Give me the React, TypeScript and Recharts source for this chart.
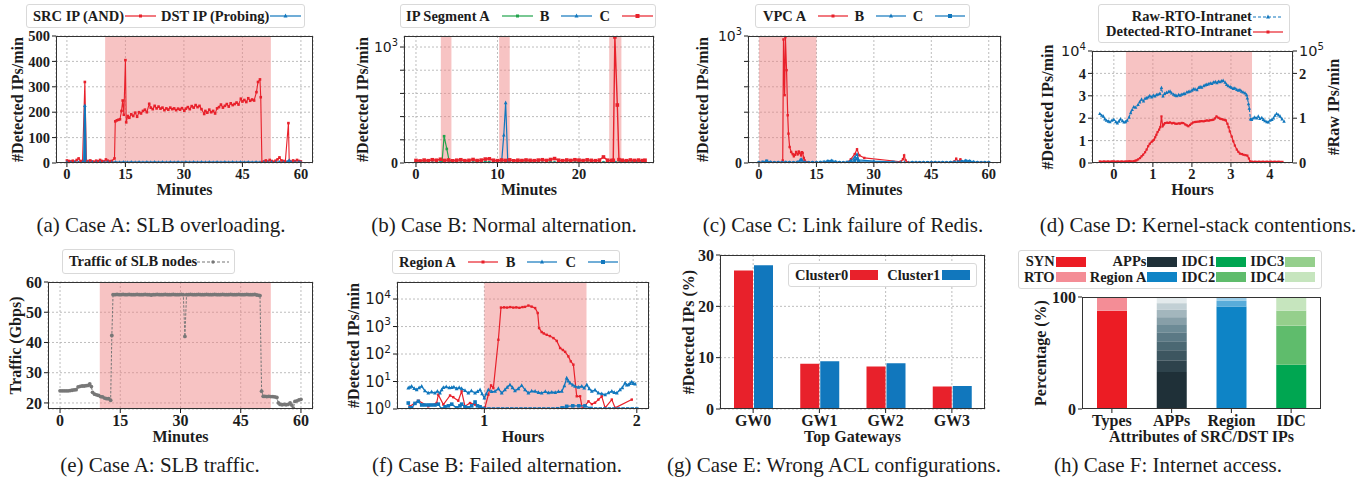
import React from 'react';
import {
  LineChart, Line, BarChart, Bar, XAxis, YAxis, CartesianGrid, ReferenceArea, Legend,
} from 'recharts';

const SERIF = '"Liberation Serif", "Times New Roman", serif';
const SANS = '"DejaVu Sans", Verdana, sans-serif';
const INK = '#1c1c1c';
const RED = '#e8212b';
const BLUE = '#1177bd';
const GREEN = '#21a34b';
const GRAY = '#777777';
const SHADE = '#ef7f7f';
const GRID = '#b5b5b5';

type Pt = [number, number];

// (a) Case A: SLB overloading
const aSrcIp: Pt[] = [
  [0, 10], [0.5, 8], [1, 6], [1.5, 9], [2, 5], [2.5, 12], [3, 18], [3.5, 8], [4, 6], [4.6, 319], [5, 5], [5.5, 8],
  [6, 10], [6.5, 6], [7, 5], [7.5, 9], [8, 7], [8.5, 12], [9, 8], [9.5, 6], [10, 14], [10.5, 9], [11, 6], [11.5, 8],
  [12.2, 18], [12.4, 164], [12.8, 168], [13.2, 170], [13.6, 172], [14, 205], [14.3, 246], [14.6, 190], [15.0, 405],
  [15.2, 160], [15.6, 185], [16, 178], [16.5, 192], [17, 185], [17.5, 198], [18, 182], [18.5, 200], [19, 195],
  [19.5, 205], [20, 210], [20.5, 200], [21.1, 233], [21.5, 218], [22, 212], [22.5, 225], [23, 215], [23.5, 222],
  [24, 214], [24.5, 218], [25, 208], [25.5, 215], [26, 210], [26.5, 218], [27, 212], [27.5, 215], [28, 208],
  [28.5, 214], [29, 210], [29.5, 216], [30.1, 206], [30.5, 214], [31, 220], [31.5, 212], [32, 224], [32.5, 218],
  [33, 228], [33.5, 220], [34, 225], [34.5, 212], [35.2, 193], [35.5, 205], [36, 198], [36.5, 210], [37, 200],
  [37.5, 205], [38, 195], [38.5, 215], [39, 220], [39.5, 230], [40, 218], [40.5, 225], [41, 232], [41.5, 222],
  [42, 235], [42.5, 228], [43, 232], [43.5, 238], [44, 230], [44.6, 253], [45, 242], [45.5, 248], [46, 240],
  [46.5, 255], [47, 245], [47.5, 250], [48, 246], [48.6, 279], [49.0, 319], [49.5, 329], [49.7, 259], [50.0, 3],
  [50.5, 6], [51, 10], [51.5, 5], [52, 12], [52.5, 8], [53, 5], [53.5, 9], [54, 14], [54.5, 22], [55, 10],
  [55.5, 8], [56, 6], [56.8, 157], [57.0, 8], [57.5, 5], [58, 10], [58.5, 7], [59, 12], [59.5, 8], [60, 6],
];
const aDstIp: Pt[] = [
  [0, 3], [1, 2], [2, 3], [3, 2], [4, 3], [4.4, 4], [4.6, 226], [4.8, 3], [5.5, 2], [6.5, 3], [7.5, 2], [8.5, 3],
  [9.5, 2], [10.5, 3], [11.5, 2], [12.5, 3], [13.5, 2], [14.5, 3], [15.5, 2], [16.5, 3], [17.5, 2], [18.5, 3],
  [19.5, 2], [20.5, 3], [21.5, 2], [22.5, 3], [23.5, 2], [24.5, 3], [25.5, 2], [26.5, 3], [27.5, 2], [28.5, 3],
  [29.5, 2], [30.5, 3], [31.5, 2], [32.5, 3], [33.5, 2], [34.5, 3], [35.5, 2], [36.5, 3], [37.5, 2], [38.5, 3],
  [39.5, 2], [40.5, 3], [41.5, 2], [42.5, 3], [43.5, 2], [44.5, 3], [45.5, 2], [46.5, 3], [47.5, 2], [48.5, 3],
  [49.5, 2], [50.5, 3], [51.5, 2], [52.5, 3], [53.5, 2], [54.5, 3], [55.5, 2], [56.5, 4], [57, 10], [57.5, 3],
  [58.5, 2], [59.5, 3], [60, 2],
];
const aAnomaly = [9.8, 52.3];
const minuteTicks = [0, 15, 30, 45, 60];

// (b) Case B: normal alternation
const bSegA: Pt[] = [
  [0, 6], [0.5, 4], [1, 7], [1.5, 5], [2, 3], [2.5, 6], [3, 5], [3.2, 8], [3.45, 231], [3.78, 121], [4.1, 6],
  [4.5, 4], [5, 5], [5.5, 3], [6, 6], [6.5, 4], [7, 5], [7.5, 7], [8, 4], [8.5, 9], [9, 6], [9.5, 4], [10, 5],
  [10.5, 3], [11, 5], [11.5, 4], [12, 6], [12.5, 3], [13, 5], [13.5, 7], [14, 4], [14.5, 5], [15, 6], [15.5, 3],
  [16, 5], [16.5, 8], [17, 4], [17.5, 5], [18, 3], [18.5, 6], [19, 4], [19.5, 5], [20, 7], [20.5, 4], [21, 5],
  [21.5, 3], [22, 6], [22.5, 4], [23, 5], [23.5, 6], [24, 3], [24.5, 4], [25, 5], [25.5, 3], [26, 6], [26.5, 4],
  [27, 5], [27.5, 4], [28, 5],
];
const bSegB: Pt[] = [
  [0, 3], [0.5, 2], [1, 3], [1.5, 2], [2, 4], [2.5, 2], [3, 3], [3.5, 2], [4, 3], [4.5, 2], [5, 3], [5.5, 2],
  [6, 3], [6.5, 2], [7, 3], [7.5, 2], [8, 3], [8.5, 4], [9, 2], [9.5, 3], [10, 2], [10.5, 4], [10.77, 240],
  [11.0, 520], [11.26, 9], [11.5, 3], [12, 2], [12.5, 3], [13, 2], [13.5, 3], [14, 2], [14.5, 3], [15, 2],
  [15.5, 3], [16, 2], [16.5, 3], [17, 2], [17.5, 3], [18, 2], [18.5, 3], [19, 2], [19.5, 3], [20, 2], [20.5, 3],
  [21, 2], [21.5, 3], [22, 2], [22.5, 3], [23, 2], [23.5, 3], [24, 2], [24.5, 3], [25, 2], [25.5, 3], [26, 2],
  [26.5, 3], [27, 2], [27.5, 3], [28, 2],
];
const bSegC: Pt[] = [
  [0, 22], [0.5, 18], [1, 25], [1.5, 20], [2, 28], [2.5, 24], [3, 32], [3.5, 22], [4, 26], [4.5, 19], [5, 24],
  [5.5, 28], [6, 20], [6.5, 23], [7, 30], [7.5, 21], [8, 25], [8.5, 34], [9, 36], [9.5, 24], [10, 20], [10.5, 26],
  [11, 22], [11.5, 27], [12, 19], [12.5, 24], [13, 21], [13.5, 26], [14, 23], [14.5, 20], [15, 25], [15.5, 28],
  [16, 22], [16.5, 30], [17, 38], [17.5, 24], [18, 20], [18.5, 26], [19, 22], [19.5, 28], [20, 25], [20.5, 21],
  [21, 27], [21.5, 23], [22, 20], [22.5, 25], [23, 52], [23.5, 24], [24, 22], [24.2, 23], [24.4, 1087],
  [24.7, 500], [24.9, 29], [25.3, 24], [25.8, 20], [26.3, 26], [26.8, 22], [27.3, 25], [27.8, 21], [28.1, 24],
];
const bAnomalies = [[3.05, 4.35], [10.2, 11.5], [23.7, 25.2]];
const bMinuteTicks = [0, 10, 20];
const linTicks = [0, 200, 400, 600, 800, 1000];

// (c) Case C: link failure of Redis
const cVpcA: Pt[] = [
  [0, 3], [1, 4], [2, 3], [3, 5], [4, 3], [5, 4], [6, 6], [6.2, 20], [6.4, 973], [6.7, 534], [6.9, 990],
  [7.2, 731], [7.5, 376], [7.7, 231], [8.0, 126], [8.4, 87], [8.8, 70], [9.1, 53], [9.4, 65], [9.7, 87],
  [10.1, 68], [10.4, 90], [10.6, 79], [11.0, 60], [11.2, 85], [11.4, 79], [11.7, 40], [11.9, 21], [12.5, 6],
  [13, 4], [14, 5], [15, 3], [16, 4], [17, 5], [18, 3], [19, 4], [20, 5], [21, 3], [22, 4], [23, 5], [24, 30],
  [25, 70], [25.6, 108], [26.2, 60], [27.5, 40], [37.0, 10], [37.6, 30], [37.9, 60], [38.3, 20], [39, 5],
  [40, 4], [41, 3], [42, 5], [43, 4], [44, 3], [45, 5], [46, 4], [47, 3], [48, 5], [49, 4], [50, 5], [51, 12],
  [51.5, 34], [52, 10], [52.6, 29], [53, 8], [54, 5], [55, 4], [56, 6], [57, 4], [58, 5], [59, 3], [60, 4],
];
const cVpcB: Pt[] = [
  [0, 3], [1, 5], [2, 12], [3, 6], [4, 3], [5, 4], [6, 3], [7, 5], [8, 4], [9, 3], [10, 6], [11, 30], [12, 5],
  [13, 3], [14, 4], [15, 3], [16, 5], [17, 8], [18, 15], [19, 18], [20, 9], [21, 4], [22, 3], [23, 6], [24, 20],
  [25, 45], [25.6, 68], [26, 25], [30, 15], [37, 5], [38, 4], [39, 3], [40, 5], [41, 4], [42, 3], [43, 4],
  [44, 3], [45, 5], [46, 4], [47, 3], [48, 4], [49, 3], [50, 5], [51, 6], [52, 8], [53, 12], [54, 18], [55, 15],
  [56, 8], [57, 4], [58, 3], [59, 4], [60, 3],
];
const cVpcC: Pt[] = [
  [0, 2], [1, 6], [2, 15], [3, 4], [4, 2], [5, 3], [6, 2], [7, 4], [8, 3], [9, 2], [10, 4], [11, 22], [12, 4],
  [13, 2], [14, 3], [15, 2], [16, 4], [17, 6], [18, 12], [19, 14], [20, 6], [21, 3], [22, 2], [23, 4], [24, 10],
  [25, 20], [25.6, 34], [26, 12], [35, 6], [40, 3], [41, 2], [42, 3], [43, 2], [44, 3], [45, 2], [46, 3],
  [47, 2], [48, 3], [49, 2], [50, 3], [51, 4], [52, 6], [53, 10], [54, 15], [55, 12], [56, 5], [57, 3], [58, 2],
  [59, 3], [60, 2],
];
const cAnomaly = [0, 15];

// (d) Case D: kernel-stack contentions (raw in 1e5, detected in 1e4)
const dRawRto: Pt[] = [
  [-0.36, 1.10], [-0.31, 1.06], [-0.27, 1.04], [-0.23, 0.98], [-0.19, 0.95], [-0.14, 0.93], [-0.1, 0.92],
  [-0.05, 0.95], [0, 0.97], [0.05, 0.92], [0.09, 0.89], [0.13, 0.93], [0.17, 0.98], [0.22, 0.94], [0.26, 0.91],
  [0.3, 0.92], [0.34, 0.95], [0.39, 1.02], [0.43, 1.12], [0.47, 1.19], [0.51, 1.25], [0.56, 1.24], [0.62, 1.30],
  [0.66, 1.36], [0.71, 1.42], [0.76, 1.38], [0.8, 1.44], [0.84, 1.45], [0.88, 1.47], [0.92, 1.50], [0.97, 1.47],
  [1.01, 1.51], [1.05, 1.49], [1.09, 1.52], [1.13, 1.53], [1.18, 1.55], [1.22, 1.68], [1.26, 1.49], [1.3, 1.55],
  [1.35, 1.57], [1.4, 1.59], [1.44, 1.60], [1.48, 1.56], [1.53, 1.53], [1.57, 1.51], [1.61, 1.50], [1.66, 1.52],
  [1.7, 1.51], [1.74, 1.53], [1.78, 1.54], [1.82, 1.55], [1.87, 1.58], [1.91, 1.59], [1.95, 1.60], [2.0, 1.62],
  [2.04, 1.65], [2.08, 1.65], [2.13, 1.63], [2.17, 1.68], [2.21, 1.70], [2.25, 1.69], [2.3, 1.72], [2.34, 1.74],
  [2.38, 1.75], [2.42, 1.76], [2.47, 1.78], [2.51, 1.77], [2.55, 1.80], [2.6, 1.81], [2.64, 1.79], [2.68, 1.82],
  [2.72, 1.81], [2.76, 1.83], [2.8, 1.84], [2.85, 1.80], [2.89, 1.75], [2.93, 1.72], [2.98, 1.70], [3.02, 1.68],
  [3.06, 1.66], [3.1, 1.67], [3.15, 1.64], [3.19, 1.62], [3.23, 1.63], [3.27, 1.60], [3.31, 1.58], [3.36, 1.56],
  [3.4, 1.52], [3.42, 1.45], [3.45, 1.32], [3.47, 1.22], [3.5, 0.98], [3.53, 0.97], [3.57, 1.00], [3.61, 1.02],
  [3.66, 1.00], [3.7, 1.04], [3.74, 0.99], [3.79, 1.01], [3.83, 0.97], [3.87, 0.94], [3.92, 0.92], [3.96, 0.91],
  [4.0, 0.95], [4.05, 0.97], [4.09, 1.00], [4.13, 1.06], [4.17, 1.10], [4.22, 1.07], [4.26, 1.04], [4.31, 0.98],
  [4.36, 0.93],
];
const dDetectedRto: Pt[] = [
  [-0.36, 0.07], [-0.3, 0.06], [-0.25, 0.07], [-0.2, 0.06], [-0.15, 0.07], [-0.1, 0.06], [-0.05, 0.07], [0, 0.07],
  [0.05, 0.06], [0.1, 0.07], [0.15, 0.06], [0.2, 0.07], [0.25, 0.06], [0.3, 0.07], [0.35, 0.07], [0.4, 0.08],
  [0.45, 0.07], [0.51, 0.08], [0.55, 0.1], [0.58, 0.12], [0.62, 0.16], [0.67, 0.22], [0.71, 0.3], [0.75, 0.37],
  [0.8, 0.48], [0.84, 0.6], [0.88, 0.75], [0.92, 0.86], [0.97, 0.95], [1.0, 1.0], [1.03, 1.04], [1.06, 1.15],
  [1.09, 1.26], [1.12, 1.38], [1.16, 1.49], [1.19, 1.6], [1.22, 2.08], [1.25, 1.64], [1.28, 1.72], [1.31, 1.78],
  [1.36, 1.8], [1.4, 1.79], [1.44, 1.81], [1.49, 1.77], [1.53, 1.79], [1.57, 1.76], [1.61, 1.75], [1.66, 1.77],
  [1.7, 1.76], [1.74, 1.79], [1.78, 1.78], [1.83, 1.72], [1.87, 1.68], [1.91, 1.64], [1.95, 1.7], [1.99, 1.76],
  [2.03, 1.81], [2.08, 1.83], [2.12, 1.84], [2.17, 1.85], [2.21, 1.86], [2.25, 1.87], [2.3, 1.86], [2.34, 1.88],
  [2.38, 1.9], [2.43, 1.89], [2.47, 1.91], [2.51, 1.92], [2.55, 1.93], [2.59, 1.99], [2.63, 2.08], [2.68, 2.02],
  [2.72, 1.98], [2.76, 1.96], [2.8, 1.94], [2.84, 1.92], [2.87, 1.9], [2.91, 1.75], [2.94, 1.6], [2.97, 1.41],
  [3.02, 1.18], [3.06, 0.97], [3.1, 0.78], [3.15, 0.6], [3.19, 0.5], [3.23, 0.42], [3.28, 0.4], [3.32, 0.37],
  [3.37, 0.35], [3.42, 0.33], [3.46, 0.2], [3.49, 0.07], [3.53, 0.06], [3.57, 0.05], [3.62, 0.06], [3.67, 0.05],
  [3.72, 0.06], [3.77, 0.05], [3.82, 0.06], [3.87, 0.05], [3.92, 0.06], [3.97, 0.05], [4.02, 0.06], [4.07, 0.05],
  [4.12, 0.06], [4.17, 0.05], [4.22, 0.06], [4.27, 0.05], [4.32, 0.05],
];
const dAnomaly = [0.31, 3.54];
const hourTicks = [0, 1, 2, 3, 4];

// (e) Case A: SLB traffic (Gbps)
const eSlbTraffic: Pt[] = [
  [0, 24], [0.5, 24], [1, 24], [1.5, 24], [2, 24], [2.5, 24.1], [3, 24.2], [3.5, 24.3], [4, 24.4], [4.5, 25.3],
  [5, 25.5], [5.5, 25.6], [6, 25.6], [6.5, 25.7], [7, 25.8], [7.4, 26.3], [7.8, 25.4], [8.1, 23.5], [8.6, 22.9],
  [9.1, 22.7], [9.6, 22.5], [10.1, 22.1], [10.6, 22], [11.1, 21.6], [11.6, 21.4], [12.1, 21.4], [12.6, 20.9],
  [12.9, 42.3], [13.2, 55.8], [13.7, 55.8], [14.2, 55.9], [14.7, 55.8], [15.2, 55.8], [15.7, 55.9], [16.2, 55.8],
  [16.7, 55.8], [17.2, 55.9], [17.7, 55.8], [18.2, 55.8], [18.7, 55.8], [19.2, 55.9], [19.7, 55.8], [20.2, 55.8],
  [20.7, 55.8], [21.2, 55.9], [21.7, 55.8], [22.2, 55.8], [22.7, 55.7], [23.2, 55.8], [23.7, 55.8], [24.2, 55.9],
  [24.7, 55.8], [25.2, 55.8], [25.7, 55.8], [26.2, 55.9], [26.7, 55.8], [27.2, 55.8], [27.7, 55.8], [28.2, 55.9],
  [28.7, 55.8], [29.2, 55.8], [29.7, 55.8], [30.2, 55.9], [30.7, 55.8], [31.1, 42], [31.5, 55.8], [32, 55.8],
  [32.5, 55.9], [33, 55.8], [33.5, 55.8], [34, 55.8], [34.5, 55.9], [35, 55.8], [35.5, 55.8], [36, 55.8],
  [36.5, 55.9], [37, 55.8], [37.5, 55.8], [38, 55.8], [38.5, 55.9], [39, 55.8], [39.5, 55.8], [40, 55.8],
  [40.5, 55.9], [41, 55.8], [41.5, 55.8], [42, 55.8], [42.5, 55.9], [43, 55.8], [43.5, 55.8], [44, 55.8],
  [44.5, 55.9], [45, 55.8], [45.5, 55.8], [46, 55.8], [46.5, 55.9], [47, 55.8], [47.5, 55.8], [48, 55.8],
  [48.5, 55.9], [49, 55.7], [49.5, 55.6], [49.8, 55.5], [50.2, 23.9], [50.6, 22.2], [51, 22.2], [51.5, 22.1],
  [52, 22.2], [52.5, 22.1], [53, 22.1], [53.5, 22], [54, 21.8], [54.4, 20], [54.8, 19.5], [55.3, 19.4],
  [55.8, 19.5], [56.3, 19.4], [56.8, 19.5], [57.3, 20], [57.7, 19.3], [58.1, 18.3], [58.5, 20.5], [59, 20.7],
  [59.5, 21], [60, 21.2],
];
const eAnomaly = [9.9, 52.5];
const gbpsTicks = [20, 30, 40, 50, 60];

// (f) Case B: failed alternation (log scale)
const fRegionA: Pt[] = [
  [0.512, 1.25], [0.567, 2.0], [0.632, 1.25], [0.687, 1.65], [0.698, 3.3], [0.731, 1.45], [0.775, 3.1],
  [0.796, 2.7], [0.829, 2.0], [0.851, 4.4], [0.873, 1.25], [0.906, 1.65], [0.939, 1.45], [0.972, 1.1],
  [1.004, 1.15], [1.026, 3.3], [1.044, 7.2], [1.059, 5.8], [1.092, 330], [1.109, 4900], [1.13, 5000],
  [1.15, 4900], [1.17, 5100], [1.19, 4900], [1.21, 5000], [1.23, 4800], [1.25, 5100], [1.267, 5200],
  [1.289, 5800], [1.31, 5300], [1.333, 4700], [1.35, 3100], [1.359, 880], [1.376, 630], [1.39, 560],
  [1.409, 500], [1.43, 450], [1.453, 380], [1.475, 300], [1.497, 165], [1.515, 140], [1.53, 120], [1.551, 82],
  [1.567, 54], [1.584, 41], [1.606, 2.9], [1.628, 2.9], [1.643, 1.0], [1.683, 1.9], [1.705, 1.5], [1.726, 1.7],
  [1.748, 2.2], [1.77, 2.9], [1.792, 1.1], [1.836, 2.2], [1.858, 1.1], [1.967, 2.2],
];
const fRegionB: Pt[] = [
  [0.501, 5.8], [0.512, 6.2], [0.523, 6.7], [0.54, 5.6], [0.556, 5.0], [0.572, 5.9], [0.589, 6.7], [0.61, 4.6],
  [0.632, 3.8], [0.654, 4.2], [0.676, 3.8], [0.692, 4.4], [0.709, 3.8], [0.72, 5.0], [0.731, 6.1], [0.75, 6.4],
  [0.77, 5.9], [0.786, 6.1], [0.8, 6.3], [0.818, 5.5], [0.835, 6.0], [0.851, 5.5], [0.873, 4.7], [0.895, 3.8],
  [0.915, 4.6], [0.939, 3.8], [0.955, 4.3], [0.972, 5.0], [0.985, 3.6], [1.0, 2.5], [1.013, 3.6], [1.026, 5.0],
  [1.048, 4.3], [1.07, 4.4], [1.092, 5.5], [1.114, 3.8], [1.135, 5.0], [1.15, 6.2], [1.168, 7.6], [1.185, 6.0],
  [1.201, 4.6], [1.223, 5.5], [1.245, 7.2], [1.267, 5.0], [1.289, 3.8], [1.31, 4.5], [1.333, 4.4], [1.355, 4.0],
  [1.376, 3.8], [1.4, 4.3], [1.42, 3.9], [1.442, 4.1], [1.465, 4.0], [1.486, 4.3], [1.508, 4.4], [1.525, 7.0],
  [1.54, 13.4], [1.551, 10.5], [1.562, 8.8], [1.58, 7.5], [1.595, 6.7], [1.617, 6.2], [1.639, 6.7], [1.655, 5.8],
  [1.672, 7.6], [1.688, 5.5], [1.705, 4.4], [1.726, 4.9], [1.748, 3.8], [1.77, 3.6], [1.792, 3.3], [1.814, 3.9],
  [1.836, 4.4], [1.852, 4.0], [1.869, 3.8], [1.89, 5.0], [1.905, 6.0], [1.923, 8.8], [1.934, 7.5], [1.945, 7.6],
  [1.956, 8.5], [1.967, 9.6], [1.978, 8.4], [1.989, 8.1],
];
const fRegionC: Pt[] = [
  [0.501, 1.65], [0.512, 1.1], [0.523, 1.1], [0.545, 1.6], [0.567, 1.9], [0.589, 1.4], [0.61, 1.4], [0.632, 1.4],
  [0.654, 1.4], [0.676, 1.4], [0.698, 1.5], [0.72, 1.0], [0.742, 1.2], [0.764, 1.3], [0.786, 1.5], [0.818, 1.1],
  [0.84, 1.3], [0.851, 1.5], [0.873, 1.2], [0.895, 1.1], [0.917, 1.3], [0.939, 1.8], [0.955, 1.3], [0.972, 1.2],
  [0.99, 1.05], [1.0, 1.0], [1.03, 1.0], [1.06, 1.0], [1.09, 1.0], [1.12, 1.0], [1.15, 1.0], [1.18, 1.0],
  [1.21, 1.0], [1.24, 1.0], [1.27, 1.0], [1.3, 1.0], [1.33, 1.0], [1.36, 1.0], [1.39, 1.0], [1.42, 1.0],
  [1.45, 1.0], [1.48, 1.02], [1.51, 1.1], [1.54, 1.25], [1.58, 1.3], [1.62, 1.3], [1.66, 1.3], [1.7, 1.05],
  [1.73, 1.0], [1.76, 1.0], [1.79, 1.0], [1.82, 1.0], [1.85, 1.0], [1.88, 1.0], [1.91, 1.0], [1.94, 1.0],
  [1.97, 1.0], [2.0, 1.0],
];
const fAnomaly = [1.0, 1.67];
const logTicks = [1, 10, 100, 1000, 10000];

// (g) Case E: wrong ACL configurations
const gGateways = ['GW0', 'GW1', 'GW2', 'GW3'];
const gCluster0 = [27, 8.8, 8.3, 4.4];
const gCluster1 = [28, 9.3, 8.9, 4.5];

// (h) Case F: internet access
const hAttributes = ['Types', 'APPs', 'Region', 'IDC'];
const hTypeShare = [87.8, 12.2];
const hAppShare = [33, 10.5, 9, 8, 8, 6.5, 7, 6.5, 6, 5.5];
const hRegionShare = [91.5, 5, 3.5];
const hIdcShare = [39.6, 34.8, 13.4, 12.2];
const typeColors = ['#ec1c24', '#f48d96'];
const appColors = ['#1f3038', '#2e434c', '#3d5660', '#4b6873', '#5b7985', '#6d8b96', '#879fa8', '#a3b6bd', '#c2d0d5', '#e3eaec'];
const regionColors = ['#0e84c6', '#58acda', '#9acde9'];
const idcColors = ['#00a651', '#5fbc6c', '#95cf8c', '#c6e5be'];

const rows = (pts: Pt[]) => pts.map(([t, v]) => ({ t, v }));

const gRows = gGateways.map((gw, i) => ({ gw, c0: gCluster0[i], c1: gCluster1[i] }));

const hKeys = [
  ...hTypeShare.map((_, i) => `type${i}`),
  ...hAppShare.map((_, i) => `app${i}`),
  ...hRegionShare.map((_, i) => `region${i}`),
  ...hIdcShare.map((_, i) => `idc${i}`),
];
const hColors = [...typeColors, ...appColors, ...regionColors, ...idcColors];
const hRows = hAttributes.map((cat, ci) => {
  const row: Record<string, any> = { cat };
  hKeys.forEach((k) => { row[k] = 0; });
  const src = [hTypeShare, hAppShare, hRegionShare, hIdcShare][ci];
  const prefix = ['type', 'app', 'region', 'idc'][ci];
  src.forEach((v, i) => { row[`${prefix}${i}`] = v; });
  return row;
});

// ---------- drawing helpers ----------
const squareDot = (color: string, s: number) => (p: any) => {
  if (p.cx == null || p.cy == null) return <g key={`n${p.index}`} />;
  return <rect key={`s${p.index}`} x={p.cx - s / 2} y={p.cy - s / 2} width={s} height={s} fill={color} />;
};
const triDot = (color: string, s: number) => (p: any) => {
  if (p.cx == null || p.cy == null) return <g key={`n${p.index}`} />;
  const { cx, cy } = p;
  return <path key={`t${p.index}`} d={`M${cx},${cy - s * 0.6}L${cx + s / 2},${cy + s * 0.4}L${cx - s / 2},${cy + s * 0.4}Z`} fill={color} />;
};
const roundDot = (color: string, r: number) => (p: any) => {
  if (p.cx == null || p.cy == null) return <g key={`n${p.index}`} />;
  return <circle key={`c${p.index}`} cx={p.cx} cy={p.cy} r={r} fill={color} />;
};

type Lab = { text: string; sup?: string } | null;
const yTick = (fmt: (v: number) => Lab, size: number) => (p: any) => {
  const lab = fmt(p.payload.value);
  if (!lab) return <g key={`k${p.index}`} />;
  if (lab.sup !== undefined) {
    return (
      <text key={`k${p.index}`} x={p.x} y={p.y} dy={size * 0.36} textAnchor={p.textAnchor} fontFamily={SANS} fontSize={size} fill={INK}>
        {lab.text}<tspan dy={-size * 0.45} fontSize={size * 0.7}>{lab.sup}</tspan>
      </text>
    );
  }
  return (
    <text key={`k${p.index}`} x={p.x} y={p.y} dy={size * 0.36} textAnchor={p.textAnchor} fontFamily={SERIF} fontWeight={700} fontSize={size} fill={INK}>
      {lab.text}
    </text>
  );
};
const plain = (v: number): Lab => ({ text: String(v) });
const zeroOrPow3 = (v: number): Lab => (v === 0 ? { text: '0' } : v === 1000 ? { text: '10', sup: '3' } : null);

const tickFont = (size: number) => ({ fontFamily: SERIF, fontWeight: 700, fontSize: size, fill: INK });
const titleStyle = { fontFamily: SERIF, fontWeight: 700, fontSize: 16, fill: INK, textAnchor: 'middle' as const };
const yTitle = (value: string, offset: number) => ({ value, angle: -90, position: 'insideLeft' as const, offset, style: titleStyle });
const xTitle = (value: string, offset: number) => ({ value, position: 'insideBottom' as const, offset, style: titleStyle });

type Key = { label: string; color: string; patch?: boolean; mark?: 'sq' | 'tri' | 'dot'; dash?: boolean; ms?: number };

function Sample({ k, w }: { k: Key; w: number }) {
  if (k.patch) return <span style={{ display: 'inline-block', width: w, height: 10, background: k.color }} />;
  const c = w / 2;
  const m = k.ms ?? 3.5;
  return (
    <svg width={w} height={12} style={{ display: 'block' }}>
      <line x1={0} y1={6} x2={w} y2={6} stroke={k.color} strokeWidth={1.2} strokeDasharray={k.dash ? '3 2' : undefined} />
      {k.mark === 'sq' && <rect x={c - m / 2} y={6 - m / 2} width={m} height={m} fill={k.color} />}
      {k.mark === 'tri' && <path d={`M${c},${6 - m * 0.6}L${c + m / 2},${6 + m * 0.4}L${c - m / 2},${6 + m * 0.4}Z`} fill={k.color} />}
      {k.mark === 'dot' && <circle cx={c} cy={6} r={m / 2} fill={k.color} />}
    </svg>
  );
}

const legendBox: React.CSSProperties = {
  boxSizing: 'border-box', background: '#fff', border: '1px solid #d9d9d9', borderRadius: 3,
  fontFamily: SERIF, fontWeight: 700, fontSize: 14.5, color: INK, lineHeight: '15px', whiteSpace: 'nowrap',
};

function RowLegend({ keys, w, h, padL, textPad, gap, sampleW }: { keys: Key[]; w: number; h: number; padL: number; textPad: number; gap: number; sampleW: number }) {
  return (
    <div style={{ ...legendBox, width: w, height: h, paddingLeft: padL, display: 'flex', alignItems: 'center' }}>
      {keys.map((k, i) => (
        <React.Fragment key={k.label}>
          <span style={{ marginLeft: i ? gap : 0 }}>{k.label}</span>
          <span style={{ marginLeft: textPad, display: 'flex' }}><Sample k={k} w={sampleW} /></span>
        </React.Fragment>
      ))}
    </div>
  );
}

function GridLegend({ keys, cols, w, h, pad }: { keys: Key[]; cols: number; w: number; h: number; pad: string }) {
  return (
    <div style={{
      ...legendBox, width: w, height: h, padding: pad, display: 'grid',
      gridTemplateColumns: Array(cols).fill('auto 30px').join(' '), columnGap: 1, alignItems: 'center', justifyContent: 'start',
    }}>
      {keys.map((k) => (
        <React.Fragment key={k.label}>
          <span style={{ textAlign: 'right', paddingLeft: 3 }}>{k.label}</span>
          <span style={{ display: 'flex' }}><Sample k={k} w={30} /></span>
        </React.Fragment>
      ))}
    </div>
  );
}

function Frame({ l, t, r, b }: { l: number; t: number; r: number; b: number }) {
  return (
    <div style={{ position: 'absolute', left: l, top: t, width: r - l, height: b - t, border: '1.4px solid #333', boxSizing: 'border-box', pointerEvents: 'none' }} />
  );
}

function Caption({ cx, top, text }: { cx: number; top: number; text: string }) {
  return (
    <div style={{ position: 'absolute', left: cx - 220, top, width: 440, textAlign: 'center', fontFamily: SERIF, fontSize: 21, lineHeight: '21px', color: INK, whiteSpace: 'nowrap' }}>
      {text}
    </div>
  );
}

const place = (left: number, top: number): React.CSSProperties => ({ position: 'absolute', left, top });
const legendAt = (left: number, top: number) => ({
  wrapperStyle: { left, top, width: 'auto', height: 'auto' },
  layout: 'horizontal' as const, verticalAlign: 'middle' as const, align: 'center' as const,
});

const gridProps = { stroke: GRID, strokeDasharray: '2 2', strokeWidth: 0.9 };
const tickLine = { stroke: INK };

export default function App() {
  return (
    <div style={{ position: 'absolute', left: 0, top: 0, width: 1365, height: 486, background: '#fff', overflow: 'hidden' }}>
      {/* (a) */}
      <div style={place(0, 0)}>
        <LineChart width={325} height={208} margin={{ top: 36, right: 12, bottom: 0, left: 0 }}>
          <ReferenceArea x1={aAnomaly[0]} x2={aAnomaly[1]} fill={SHADE} fillOpacity={0.47} stroke="none" />
          <CartesianGrid {...gridProps} />
          <XAxis dataKey="t" type="number" domain={[-2.8, 63.1]} ticks={minuteTicks} allowDataOverflow interval={0}
            tickSize={4} tickLine={tickLine} axisLine={false} tick={tickFont(14.5)} height={45} label={xTitle('Minutes', 13)} />
          <YAxis type="number" domain={[0, 500]} ticks={[0, 100, 200, 300, 400, 500]} allowDataOverflow interval={0} width={56}
            tickSize={4} tickLine={tickLine} axisLine={false} tick={yTick(plain, 14.5)} label={yTitle('#Detected IPs/min', 17)} />
          <Line data={rows(aSrcIp)} dataKey="v" stroke={RED} strokeWidth={1.1} dot={squareDot(RED, 2.6)} isAnimationActive={false} />
          <Line data={rows(aDstIp)} dataKey="v" stroke={BLUE} strokeWidth={2} dot={triDot(BLUE, 3.6)} isAnimationActive={false} />
          <Legend {...legendAt(26, 4)} content={() => (
            <RowLegend w={279} h={24} padL={6} textPad={1} gap={5} sampleW={31} keys={[
              { label: 'SRC IP (AND)', color: RED, mark: 'sq', ms: 3 },
              { label: 'DST IP (Probing)', color: BLUE, mark: 'tri', ms: 4 },
            ]} />
          )} />
        </LineChart>
      </div>

      {/* (b) */}
      <div style={place(350, 0)}>
        <LineChart width={314} height={208} margin={{ top: 36, right: 10, bottom: 0, left: 0 }}>
          {bAnomalies.map(([x1, x2]) => (
            <ReferenceArea key={x1} x1={x1} x2={x2} fill={SHADE} fillOpacity={0.47} stroke="none" />
          ))}
          <CartesianGrid {...gridProps} />
          <XAxis dataKey="t" type="number" domain={[-1.47, 29.2]} ticks={bMinuteTicks} allowDataOverflow interval={0}
            tickSize={4} tickLine={tickLine} axisLine={false} tick={tickFont(14.5)} height={45} label={xTitle('Minutes', 13)} />
          <YAxis type="number" domain={[0, 1095]} ticks={linTicks} allowDataOverflow interval={0} width={54}
            tickSize={4} tickLine={tickLine} axisLine={false} tick={yTick(zeroOrPow3, 14)} label={yTitle('#Detected IPs/min', 12)} />
          <Line data={rows(bSegA)} dataKey="v" stroke={GREEN} strokeWidth={1.2} dot={squareDot(GREEN, 2.6)} isAnimationActive={false} />
          <Line data={rows(bSegB)} dataKey="v" stroke={BLUE} strokeWidth={1.2} dot={triDot(BLUE, 3.6)} isAnimationActive={false} />
          <Line data={rows(bSegC)} dataKey="v" stroke={RED} strokeWidth={1.4} dot={squareDot(RED, 3.6)} isAnimationActive={false} />
          <Legend {...legendAt(50, 4)} content={() => (
            <RowLegend w={256} h={24} padL={5} textPad={12} gap={7} sampleW={31} keys={[
              { label: 'IP Segment A', color: GREEN, mark: 'sq', ms: 3 },
              { label: 'B', color: BLUE, mark: 'tri', ms: 4 },
              { label: 'C', color: RED, mark: 'sq', ms: 4 },
            ]} />
          )} />
        </LineChart>
      </div>

      {/* (c) */}
      <div style={place(690, 0)}>
        <LineChart width={321} height={208} margin={{ top: 36, right: 10, bottom: 0, left: 0 }}>
          <ReferenceArea x1={cAnomaly[0]} x2={cAnomaly[1]} fill={SHADE} fillOpacity={0.47} stroke="none" />
          <CartesianGrid {...gridProps} />
          <XAxis dataKey="t" type="number" domain={[-2.87, 63.2]} ticks={minuteTicks} allowDataOverflow interval={0}
            tickSize={4} tickLine={tickLine} axisLine={false} tick={tickFont(14.5)} height={45} label={xTitle('Minutes', 13)} />
          <YAxis type="number" domain={[0, 1000]} ticks={linTicks} allowDataOverflow interval={0} width={58}
            tickSize={4} tickLine={tickLine} axisLine={false} tick={yTick(zeroOrPow3, 14)} label={yTitle('#Detected IPs/min', 12)} />
          <Line data={rows(cVpcA)} dataKey="v" stroke={RED} strokeWidth={1.2} dot={squareDot(RED, 2.4)} isAnimationActive={false} />
          <Line data={rows(cVpcB)} dataKey="v" stroke={BLUE} strokeWidth={1.2} dot={triDot(BLUE, 3.6)} isAnimationActive={false} />
          <Line data={rows(cVpcC)} dataKey="v" stroke={BLUE} strokeWidth={1.2} dot={squareDot(BLUE, 3.2)} isAnimationActive={false} />
          <Legend {...legendAt(65, 4)} content={() => (
            <RowLegend w={215} h={24} padL={7} textPad={12} gap={6.5} sampleW={30} keys={[
              { label: 'VPC A', color: RED, mark: 'sq', ms: 3 },
              { label: 'B', color: BLUE, mark: 'tri', ms: 4 },
              { label: 'C', color: BLUE, mark: 'sq', ms: 4 },
            ]} />
          )} />
        </LineChart>
      </div>

      {/* (d) */}
      <div style={place(1035, 0)}>
        <LineChart width={325} height={208} margin={{ top: 51, right: 0, bottom: 0, left: 0 }}>
          <ReferenceArea yAxisId="left" x1={dAnomaly[0]} x2={dAnomaly[1]} fill={SHADE} fillOpacity={0.47} stroke="none" />
          <CartesianGrid {...gridProps} yAxisId="left" />
          <XAxis dataKey="t" type="number" domain={[-0.56, 4.59]} ticks={hourTicks} allowDataOverflow interval={0}
            tickSize={4} tickLine={tickLine} axisLine={false} tick={tickFont(14.5)} height={45} label={xTitle('Hours', 13)} />
          <YAxis yAxisId="left" type="number" domain={[0, 5]} ticks={[0, 1, 2, 3, 4, 5]} allowDataOverflow interval={0} width={57}
            tickSize={4} tickLine={tickLine} axisLine={false}
            tick={yTick((v) => (v === 5 ? { text: '10', sup: '4' } : { text: String(v) }), 14.5)}
            label={yTitle('#Detected IPs/min', 12)} />
          <YAxis yAxisId="right" orientation="right" type="number" domain={[0, 2.5]} ticks={[0, 1, 2, 2.5]} allowDataOverflow interval={0} width={67}
            tickSize={4} tickLine={tickLine} axisLine={false}
            tick={yTick((v) => (v === 2.5 ? { text: '10', sup: '5' } : { text: String(v) }), 14.5)}
            label={{ value: '#Raw IPs/min', angle: -90, position: 'insideRight', offset: 27, style: titleStyle }} />
          <Line yAxisId="right" data={rows(dRawRto)} dataKey="v" stroke={BLUE} strokeWidth={1.1} strokeDasharray="3 2" dot={triDot(BLUE, 3.4)} isAnimationActive={false} />
          <Line yAxisId="left" data={rows(dDetectedRto)} dataKey="v" stroke={RED} strokeWidth={1.2} dot={squareDot(RED, 2.2)} isAnimationActive={false} />
          <Legend {...legendAt(63, 4)} content={() => (
            <GridLegend cols={1} w={192} h={39} pad="4px 6px 4px 4px" keys={[
              { label: 'Raw-RTO-Intranet', color: BLUE, mark: 'tri', dash: true, ms: 4 },
              { label: 'Detected-RTO-Intranet', color: RED, mark: 'sq', ms: 3 },
            ]} />
          )} />
        </LineChart>
      </div>

      {/* (e) */}
      <div style={place(0, 240)}>
        <LineChart width={323} height={214} margin={{ top: 42, right: 10, bottom: 0, left: 0 }}>
          <ReferenceArea x1={eAnomaly[0]} x2={eAnomaly[1]} fill={SHADE} fillOpacity={0.47} stroke="none" />
          <CartesianGrid {...gridProps} />
          <XAxis dataKey="t" type="number" domain={[-3.0, 63.0]} ticks={minuteTicks} allowDataOverflow interval={0}
            tickSize={4} tickLine={tickLine} axisLine={false} tick={tickFont(16)} height={45} label={xTitle('Minutes', 12)} />
          <YAxis type="number" domain={[18, 60]} ticks={gbpsTicks} allowDataOverflow interval={0} width={48}
            tickSize={4} tickLine={tickLine} axisLine={false} tick={yTick(plain, 16)} label={yTitle('Traffic (Gbps)', 15)} />
          <Line data={rows(eSlbTraffic)} dataKey="v" stroke={GRAY} strokeWidth={1} strokeDasharray="2.5 1.5" dot={roundDot(GRAY, 1.9)} isAnimationActive={false} />
          <Legend {...legendAt(62, 9)} content={() => (
            <RowLegend w={173} h={25} padL={6} textPad={0} gap={0} sampleW={32} keys={[
              { label: 'Traffic of SLB nodes', color: GRAY, mark: 'dot', dash: true, ms: 3.4 },
            ]} />
          )} />
        </LineChart>
      </div>

      {/* (f) */}
      <div style={place(343, 240)}>
        <LineChart width={316} height={214} margin={{ top: 42, right: 10, bottom: 0, left: 0 }}>
          <ReferenceArea x1={fAnomaly[0]} x2={fAnomaly[1]} fill={SHADE} fillOpacity={0.47} stroke="none" />
          <CartesianGrid {...gridProps} />
          <XAxis dataKey="t" type="number" domain={[0.427, 2.08]} ticks={[1, 2]} allowDataOverflow interval={0}
            tickSize={4} tickLine={tickLine} axisLine={false} tick={tickFont(16)} height={45} label={xTitle('Hours', 12)} />
          <YAxis type="number" scale="log" domain={[1, 41700]} ticks={logTicks} allowDataOverflow interval={0} width={54}
            tickSize={4} tickLine={tickLine} axisLine={false}
            tick={yTick((v) => ({ text: '10', sup: String(Math.round(Math.log10(v))) }), 15)}
            label={yTitle('#Detected IPs/min', 10)} />
          <Line data={rows(fRegionA)} dataKey="v" stroke={RED} strokeWidth={1.2} dot={squareDot(RED, 2.4)} isAnimationActive={false} />
          <Line data={rows(fRegionB)} dataKey="v" stroke={BLUE} strokeWidth={1.3} dot={triDot(BLUE, 3.8)} isAnimationActive={false} />
          <Line data={rows(fRegionC)} dataKey="v" stroke={BLUE} strokeWidth={1.3} dot={squareDot(BLUE, 3.6)} isAnimationActive={false} />
          <Legend {...legendAt(49, 10)} content={() => (
            <RowLegend w={228} h={24} padL={6} textPad={12} gap={8} sampleW={30} keys={[
              { label: 'Region A', color: RED, mark: 'sq', ms: 3 },
              { label: 'B', color: BLUE, mark: 'tri', ms: 4 },
              { label: 'C', color: BLUE, mark: 'sq', ms: 4 },
            ]} />
          )} />
        </LineChart>
      </div>

      {/* (g) */}
      <div style={place(678, 240)}>
        <BarChart width={317} height={214} data={gRows} margin={{ top: 15, right: 10, bottom: 0, left: 0 }} barGap={1} barSize={19}>
          <CartesianGrid {...gridProps} />
          <XAxis dataKey="gw" type="category" interval={0} tickSize={4} tickLine={tickLine} axisLine={false}
            tick={tickFont(16)} height={45} label={xTitle('Top Gateways', 12)} />
          <YAxis type="number" domain={[0, 30]} ticks={[0, 10, 20, 30]} allowDataOverflow interval={0} width={42}
            tickSize={4} tickLine={tickLine} axisLine={false} tick={yTick(plain, 16)} label={yTitle('#Detected IPs (%)', 10)} />
          <Bar dataKey="c0" fill={RED} isAnimationActive={false} />
          <Bar dataKey="c1" fill={BLUE} isAnimationActive={false} />
          <Legend {...legendAt(110, 23)} content={() => (
            <RowLegend w={189} h={24} padL={6} textPad={2} gap={9} sampleW={28} keys={[
              { label: 'Cluster0', color: RED, patch: true },
              { label: 'Cluster1', color: BLUE, patch: true },
            ]} />
          )} />
        </BarChart>
      </div>

      {/* (h) */}
      <div style={place(1028, 240)}>
        <BarChart width={303} height={214} data={hRows} margin={{ top: 57, right: 10, bottom: 0, left: 0 }} barSize={30}>
          <XAxis dataKey="cat" type="category" interval={0} tickSize={4} tickLine={tickLine} axisLine={false}
            tick={tickFont(16)} height={45} label={xTitle('Attributes of SRC/DST IPs', 12)} />
          <YAxis type="number" domain={[0, 100]} ticks={[0, 100]} allowDataOverflow interval={0} width={54}
            tickSize={4} tickLine={tickLine} axisLine={false} tick={yTick(plain, 16)} label={yTitle('Percentage (%)', 12)} />
          {hKeys.map((k, i) => (
            <Bar key={k} dataKey={k} stackId="share" fill={hColors[i]} isAnimationActive={false} />
          ))}
          <Legend {...legendAt(-10, 10)} content={() => (
            <GridLegend cols={4} w={304} h={39} pad="3px 4px 3px 2px" keys={[
              { label: 'SYN', color: typeColors[0], patch: true },
              { label: 'APPs', color: appColors[0], patch: true },
              { label: 'IDC1', color: idcColors[0], patch: true },
              { label: 'IDC3', color: idcColors[2], patch: true },
              { label: 'RTO', color: typeColors[1], patch: true },
              { label: 'Region A', color: regionColors[0], patch: true },
              { label: 'IDC2', color: idcColors[1], patch: true },
              { label: 'IDC4', color: idcColors[3], patch: true },
            ]} />
          )} />
        </BarChart>
      </div>

      <Frame l={56} t={36} r={313} b={163} />
      <Frame l={404} t={36} r={654} b={163} />
      <Frame l={748} t={36} r={1001} b={163} />
      <Frame l={1092} t={51} r={1293} b={163} />
      <Frame l={48} t={282} r={313} b={409} />
      <Frame l={397} t={282} r={649} b={409} />
      <Frame l={720} t={255} r={985} b={409} />
      <Frame l={1082} t={297} r={1321} b={409} />

      <Caption cx={161} top={215} text="(a) Case A: SLB overloading." />
      <Caption cx={504} top={215} text="(b) Case B: Normal alternation." />
      <Caption cx={843} top={215} text="(c) Case C: Link failure of Redis." />
      <Caption cx={1198} top={215} text="(d) Case D: Kernel-stack contentions." />
      <Caption cx={160} top={455} text="(e) Case A: SLB traffic." />
      <Caption cx={497} top={455} text="(f) Case B: Failed alternation." />
      <Caption cx={834} top={455} text="(g) Case E: Wrong ACL configurations." />
      <Caption cx={1168} top={455} text="(h) Case F: Internet access." />
    </div>
  );
}
